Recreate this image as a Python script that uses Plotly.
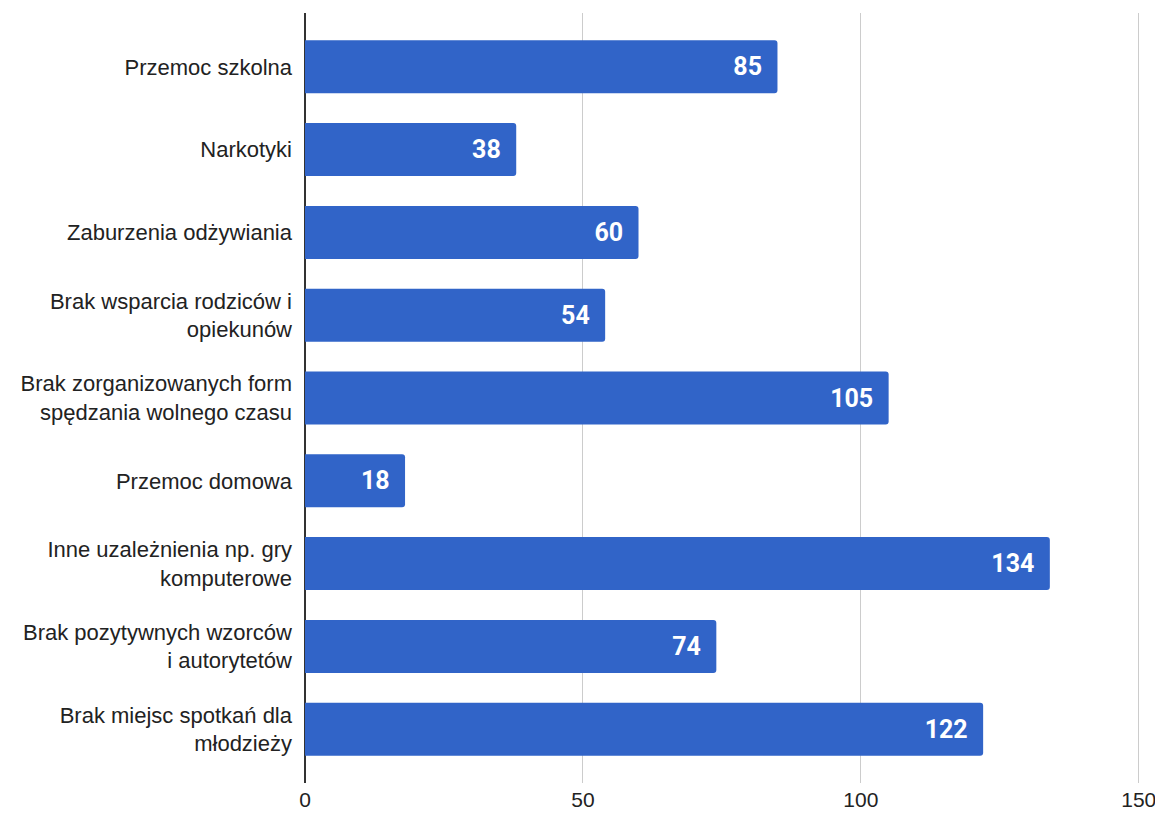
import plotly.graph_objects as go

categories = [
    "Przemoc szkolna",
    "Narkotyki",
    "Zaburzenia odżywiania",
    "Brak wsparcia rodziców i<br>opiekunów",
    "Brak zorganizowanych form<br>spędzania wolnego czasu",
    "Przemoc domowa",
    "Inne uzależnienia np. gry<br>komputerowe",
    "Brak pozytywnych wzorców<br>i autorytetów",
    "Brak miejsc spotkań dla<br>młodzieży",
]
values = [85, 38, 60, 54, 105, 18, 134, 74, 122]
x_ticks = [0, 50, 100, 150]

fig = go.Figure(go.Bar(
    x=values,
    y=categories,
    orientation="h",
    marker=dict(color="#3164C8", line=dict(width=0)),
    width=0.64,
    text=[str(v) + "\u00a0\u00a0" for v in values],
    textposition="inside",
    insidetextanchor="end",
    textfont=dict(family="Roboto", size=25, color="white", weight="bold"),
    cliponaxis=False,
))

fig.update_layout(
    width=1155, height=806,
    margin=dict(l=297, r=22, t=5, b=31, autoexpand=False),
    paper_bgcolor="white", plot_bgcolor="white",
    barcornerradius=3,
    showlegend=False,
    xaxis=dict(
        range=[0, 150.4], tickvals=x_ticks, ticktext=[str(t) for t in x_ticks],
        showgrid=True, gridcolor="#CCCCCC", gridwidth=1,
        zeroline=True, zerolinecolor="#333333", zerolinewidth=1.5,
        showline=False, ticks="",
        tickfont=dict(family="Liberation Sans", size=21, color="#222222"),
        ticklabelstandoff=2,
        fixedrange=True,
    ),
    yaxis=dict(
        categoryorder="array", categoryarray=categories,
        range=[8.65, -0.65],
        showgrid=False, zeroline=False, showline=False, ticks="",
        ticklabelstandoff=12,
        tickfont=dict(family="Liberation Sans", size=22, color="#222222"),
        fixedrange=True,
    ),
)

fig.write_html("out.html")
